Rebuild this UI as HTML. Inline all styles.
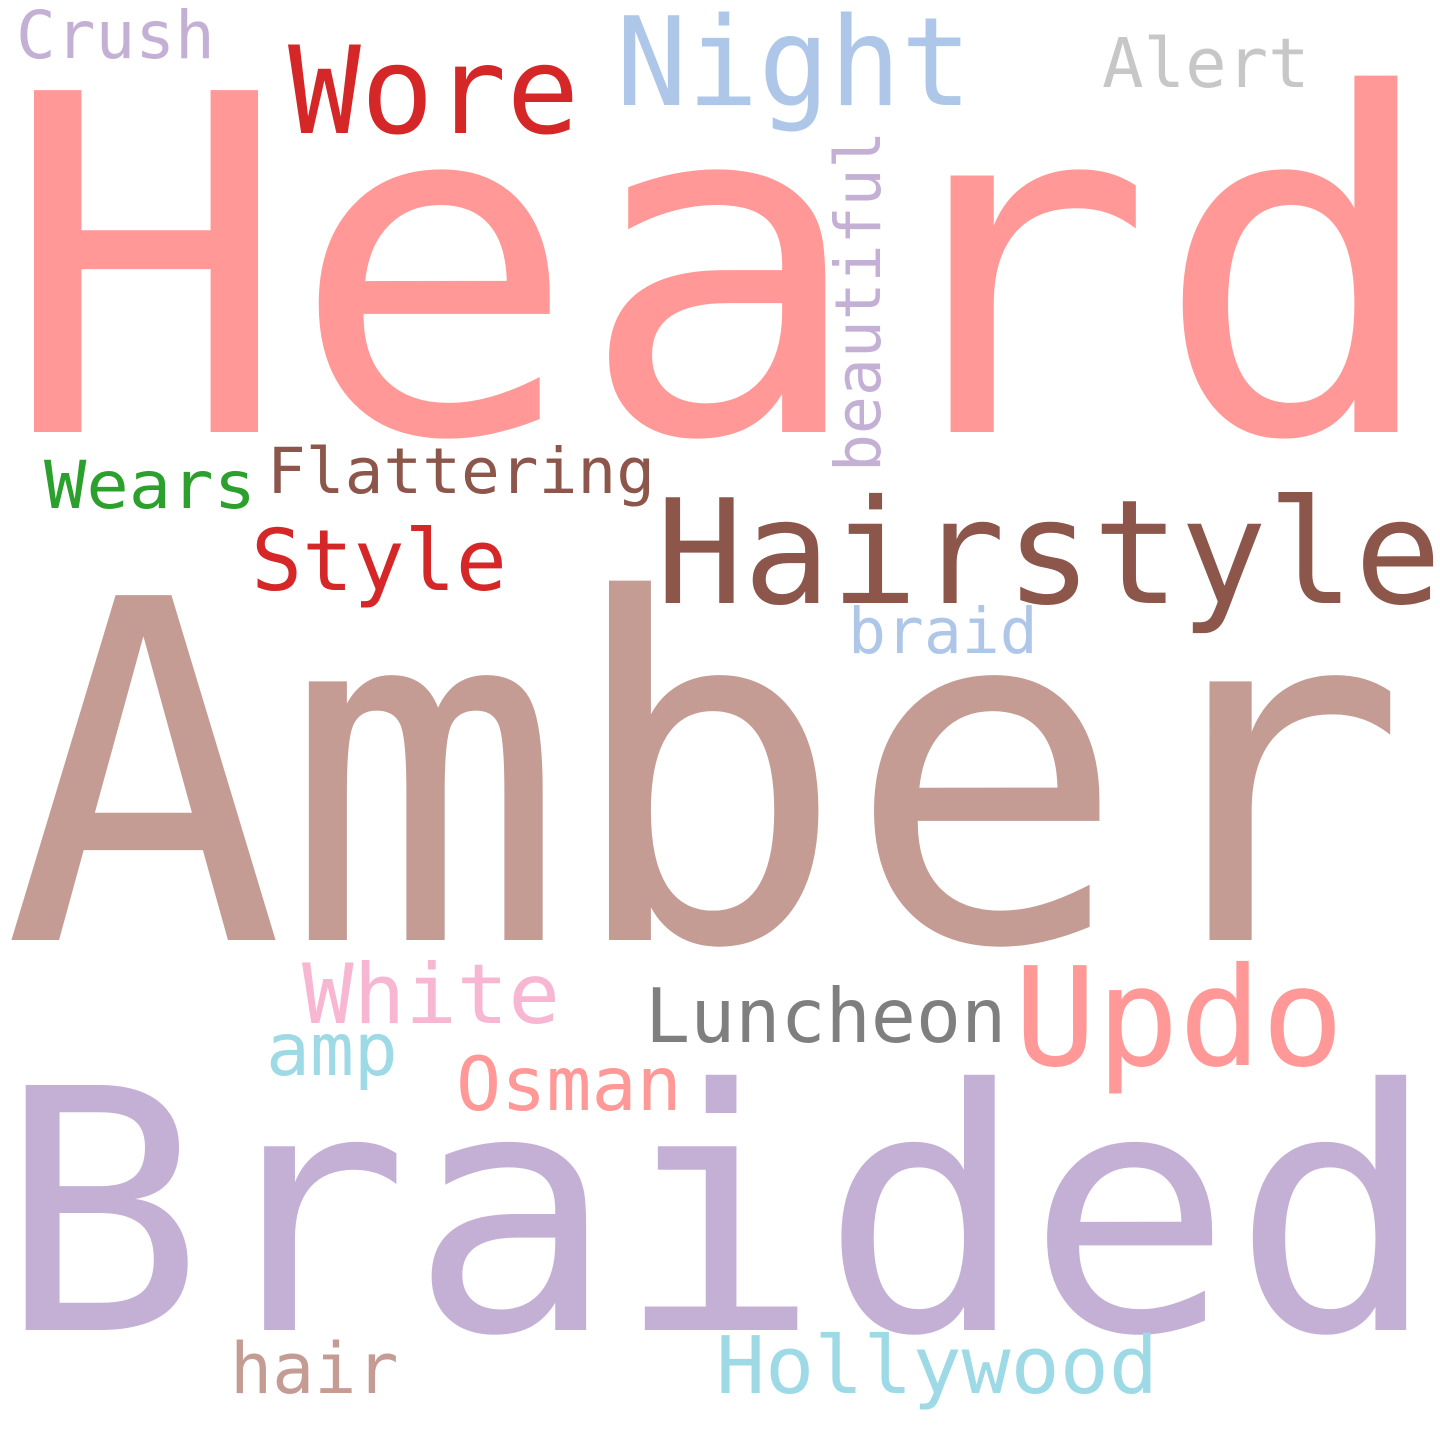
<!DOCTYPE html>
<html><head><meta charset="utf-8"><style>
html,body{margin:0;padding:0;background:#fff;}
svg{display:block;}
text{font-family:"DejaVu Sans Mono","Liberation Mono",monospace;}
</style></head><body>
<svg width="1440" height="1440" viewBox="0 0 1440 1440" xmlns="http://www.w3.org/2000/svg">
<rect width="1440" height="1440" fill="#fff"/>
<text x="2" y="432" font-size="469" fill="#ff9896" textLength="1440" lengthAdjust="spacingAndGlyphs">Heard</text>
<text x="3" y="940" font-size="473" fill="#c49c94" textLength="1405" lengthAdjust="spacingAndGlyphs">Amber</text>
<text x="-2" y="1330" font-size="336" fill="#c5b0d5" textLength="1440" lengthAdjust="spacingAndGlyphs">Braided</text>
<text x="656" y="603" font-size="145" fill="#8c564b">Hairstyle</text>
<text x="288" y="133" font-size="121" fill="#d62728">Wore</text>
<text x="616" y="105" font-size="123" fill="#aec7e8" textLength="356" lengthAdjust="spacingAndGlyphs">Night</text>
<text x="1102" y="87" font-size="69" fill="#c7c7c7">Alert</text>
<text x="16" y="58" font-size="66" fill="#c5b0d5">Crush</text>
<text transform="translate(880,472) rotate(-90)" font-size="63" fill="#c5b0d5">beautiful</text>
<text x="44" y="508" font-size="66" fill="#2ca02c" textLength="212" lengthAdjust="spacingAndGlyphs">Wears</text>
<text x="267" y="493" font-size="63" fill="#8c564b" textLength="388" lengthAdjust="spacingAndGlyphs">Flattering</text>
<text x="251" y="590" font-size="85" fill="#d62728">Style</text>
<text x="848" y="653" font-size="63" fill="#aec7e8">braid</text>
<text x="302" y="1023" font-size="83" fill="#f7b6d2" textLength="258" lengthAdjust="spacingAndGlyphs">White</text>
<text x="645" y="1042" font-size="75" fill="#7f7f7f">Luncheon</text>
<text x="1014" y="1065" font-size="137" fill="#ff9896">Updo</text>
<text x="266" y="1075" font-size="73" fill="#9edae5">amp</text>
<text x="456" y="1110" font-size="75" fill="#ff9896">Osman</text>
<text x="230" y="1393" font-size="70" fill="#c49c94">hair</text>
<text x="716" y="1393" font-size="79" fill="#9edae5" textLength="442" lengthAdjust="spacingAndGlyphs">Hollywood</text>
</svg>
</body></html>
